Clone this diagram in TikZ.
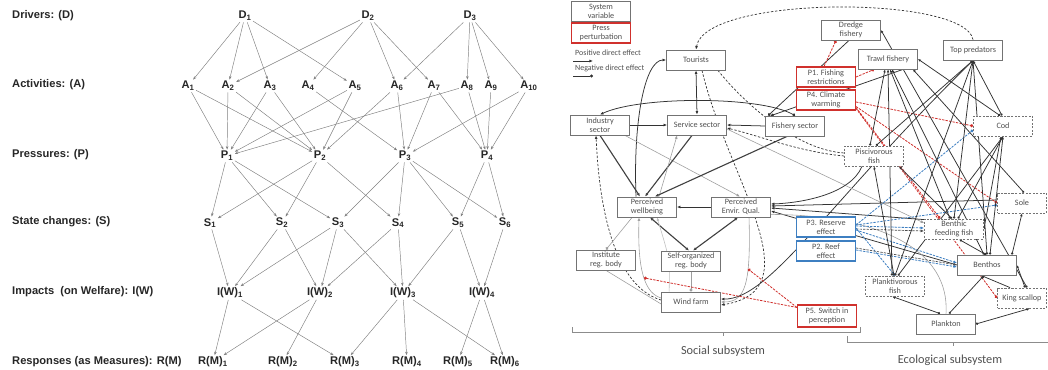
\documentclass[tikz,border=0pt]{standalone}
\usepackage{fontspec}
\setsansfont{Liberation Sans}
\newfontfamily\carl{Carlito}
\usetikzlibrary{arrows.meta,calc}
\pgfdeclarelayer{bg}
\pgfsetlayers{bg,main}
\definecolor{rd}{HTML}{D0312D}
\definecolor{bl}{HTML}{3E7FC1}
\definecolor{gtxt}{HTML}{505050}
\begin{document}
\begin{tikzpicture}[x=0.03cm,y=-0.03cm,
  lab/.style={font=\sffamily\bfseries\fontsize{9.5}{11}\selectfont,text=black!85,anchor=west,inner sep=0pt},
  v/.style={font=\sffamily\bfseries\fontsize{9.5}{11}\selectfont,text=black!85,inner sep=1.2pt},
  la/.style={draw=black!50,line width=0.4pt,-{Stealth[length=3pt,width=2.2pt]}},
  box/.style={draw=black!55,line width=0.7pt,fill=white,minimum width=1.77cm,minimum height=0.6cm,inner sep=0pt,align=center,font=\carl\fontsize{7}{7.6}\selectfont,text=gtxt},
  dbox/.style={box,dash pattern=on 1.8pt off 1.2pt},
  rbox/.style={box,draw=rd,line width=0.9pt},
  bbox/.style={box,draw=bl,line width=0.9pt},
  blk/.style={draw=black!80,line width=0.65pt},
  thk/.style={draw=black!75,line width=0.95pt},
  gry/.style={draw=black!38,line width=0.5pt},
  dsh/.style={draw=black!80,line width=0.6pt,dash pattern=on 2pt off 1.5pt},
  rdl/.style={draw=rd,line width=0.7pt,dash pattern=on 2pt off 1pt},
  bdl/.style={draw=bl,line width=0.7pt,dash pattern=on 2pt off 1pt},
  kdl/.style={draw=black!70,line width=0.6pt,dash pattern=on 2pt off 1pt},
  ar/.style={-{Latex[length=3pt,width=2.5pt]}},
  dar/.style={{Latex[length=3pt,width=2.5pt]}-{Latex[length=3pt,width=2.5pt]}},
  dt/.style={-{Circle[length=2.6pt]}},
  eco/.style={blk,{Latex[length=2.5pt,width=2.2pt]}-{Circle[length=2pt]}},
  sub/.style={font=\carl\fontsize{10.5}{12}\selectfont,text=gtxt},
  leg/.style={font=\carl\fontsize{6.8}{8}\selectfont,text=gtxt,anchor=west,inner sep=0pt}
]
\useasboundingbox (0,0) rectangle (1048,370);

% ================= LEFT PANEL =================
\node[lab] (ld) at (12,16) {Drivers: (D)};
\node[lab] (lact) at (12,85) {Activities: (A)};
\node[lab] (lp) at (12,155) {Pressures: (P)};
\node[lab] (ls) at (12,222) {State changes: (S)};
\node[lab] (li) at (12,292) {Impacts\ \ (on Welfare): I(W)};
\node[lab] (lr) at (12,362) {Responses (as Measures): R(M)};

\node[v] (d1) at (245,16) {D\textsubscript{1}};
\node[v] (d2) at (368,16) {D\textsubscript{2}};
\node[v] (d3) at (470,16) {D\textsubscript{3}};

\node[v] (a1) at (188,86) {A\textsubscript{1}};
\node[v] (a2) at (228,86) {A\textsubscript{2}};
\node[v] (a3) at (270,86) {A\textsubscript{3}};
\node[v] (a4) at (308,86) {A\textsubscript{4}};
\node[v] (a5) at (355,86) {A\textsubscript{5}};
\node[v] (a6) at (397,86) {A\textsubscript{6}};
\node[v] (a7) at (434,86) {A\textsubscript{7}};
\node[v] (a8) at (467,86) {A\textsubscript{8}};
\node[v] (a9) at (491,86) {A\textsubscript{9}};
\node[v] (a10) at (529,86) {A\textsubscript{10}};

\node[v] (p1) at (227,156) {P\textsubscript{1}};
\node[v] (p2) at (320,156) {P\textsubscript{2}};
\node[v] (p3) at (405,156) {P\textsubscript{3}};
\node[v] (p4) at (487,156) {P\textsubscript{4}};

\node[v] (s1) at (210,223) {S\textsubscript{1}};
\node[v] (s2) at (282,223) {S\textsubscript{2}};
\node[v] (s3) at (338,223) {S\textsubscript{3}};
\node[v] (s4) at (398,223) {S\textsubscript{4}};
\node[v] (s5) at (458,223) {S\textsubscript{5}};
\node[v] (s6) at (505,223) {S\textsubscript{6}};

\node[v] (i1) at (230,293) {I(W)\textsubscript{1}};
\node[v] (i2) at (320,293) {I(W)\textsubscript{2}};
\node[v] (i3) at (403,293) {I(W)\textsubscript{3}};
\node[v] (i4) at (482,293) {I(W)\textsubscript{4}};

\node[v] (r1) at (213,362) {R(M)\textsubscript{1}};
\node[v] (r2) at (283,362) {R(M)\textsubscript{2}};
\node[v] (r3) at (345,362) {R(M)\textsubscript{3}};
\node[v] (r4) at (407,362) {R(M)\textsubscript{4}};
\node[v] (r5) at (458,362) {R(M)\textsubscript{5}};
\node[v] (r6) at (505,362) {R(M)\textsubscript{6}};

\foreach \a/\b in {d1/a1,d1/a2,d1/a3,d1/a5,d2/a2,d2/a4,d2/a6,d2/a7,d3/a6,d3/a8,d3/a9,d3/a10,
  a1/p1,a1/p2,a2/p1,a2/p2,a3/p1,a3/p2,a4/p3,a5/p1,a5/p2,a6/p2,a6/p3,a7/p3,a7/p4,a8/p1,a8/p4,a9/p4,a10/p3,a10/p4,
  p1/s1,p1/s2,p1/s3,p2/s1,p2/s2,p2/s4,p3/s3,p3/s4,p3/s5,p3/s6,p4/s5,p4/s6,
  s1/i1,s2/i1,s2/i2,s3/i1,s3/i2,s3/i3,s4/i2,s4/i3,s5/i3,s5/i4,s6/i4,
  i1/r1,i1/r3,i2/r1,i2/r2,i3/r3,i3/r4,i3/r6,i4/r5,i4/r6}
  \draw[la] (\a) -- (\b);

% ================= RIGHT PANEL =================
\node[box] (sysv) at (601,11) {System\\variable};
\node[rbox] (press) at (601,33) {Press\\perturbation};
\node[leg] (lpos) at (575,53) {Positive direct effect};
\node[leg] (lneg) at (575,68) {Negative direct effect};
\coordinate (lpa) at (573,61); \coordinate (lpb) at (593,61);
\coordinate (lna) at (573,76); \coordinate (lnb) at (593,76);

\node[box] (tour) at (696,60) {Tourists};
\node[box] (ind) at (600,125) {Industry\\sector};
\node[box] (serv) at (697,125) {Service sector};
\node[box] (fish) at (795,126) {Fishery sector};
\node[box] (dredge) at (851,30) {Dredge\\fishery};
\node[box] (trawl) at (888,59) {Trawl fishery};
\node[box] (topp) at (973,50) {Top predators};
\node[rbox] (pa) at (826,77) {P1. Fishing\\restrictions};
\node[rbox] (pd) at (826,100) {P4. Climate\\warming};
\node[dbox] (cod) at (1003,126) {Cod};
\node[dbox] (pisc) at (874,156) {Piscivorous\\fish};
\node[dbox,minimum width=1.47cm] (sole) at (1022,203) {Sole};
\node[dbox] (bff) at (954,229) {Benthic\\feeding fish};
\node[box] (benth) at (987,265) {Benthos};
\node[dbox,minimum width=1.47cm] (king) at (1022,298) {King scallop};
\node[dbox] (plf) at (895,286) {Planktivorous\\fish};
\node[box] (plk) at (946,324) {Plankton};
\node[bbox] (pc) at (826,227) {P3. Reserve\\effect};
\node[bbox] (pb) at (826,251) {P2. Reef\\effect};
\node[rbox,minimum height=0.66cm] (pe) at (827,316) {P5. Switch in\\perception};
\node[box] (pw) at (647,207) {Perceived\\wellbeing};
\node[box] (peq) at (741,207) {Perceived\\Envir. Qual.};
\node[box] (inst) at (606,260) {Institute\\reg. body};
\node[box] (selfo) at (691,261) {Self-organized\\reg. body};
\node[box] (wind) at (691,302) {Wind farm};

\node[sub] (tsoc) at (723,351) {Social subsystem};
\node[sub] (teco) at (950,360) {Ecological subsystem};
\draw[black!45,line width=0.6pt] (572,327) -- (572,332) -- (860,332) -- (860,327);
\draw[black!45,line width=0.6pt] (723,332) -- (723,336);
\draw[black!45,line width=0.6pt] (847,336) -- (847,342) -- (1048,342);
\draw[black!45,line width=0.6pt] (953,342) -- (953,346);

\begin{pgfonlayer}{bg}
% legend
\draw[blk,ar] (lpa) -- (lpb);
\draw[blk,dt] (lna) -- (lnb);
% social subsystem
\draw[dsh,ar] (topp.north) .. controls (965,-5) and (705,-5) .. (tour.north);
\draw[blk,dar] (tour.south) -- (serv.north);
\draw[blk,ar] (ind.east) -- (serv.west);
\draw[blk,ar] (fish.west) -- (serv.east);
\draw[blk,{Circle[length=2.5pt]}-{Latex[length=3pt,width=2.5pt]}] (fish.north) .. controls (760,96) and (640,96) .. (ind.north);
\draw[blk,ar] ($(pw.north)+(-11,0)$) .. controls (633,120) and (645,60) .. (tour.west);
\draw[thk,ar] (ind.south) -- ($(pw.north)+(-7,0)$);
\draw[gry,ar] ($(ind.south east)+(-5,0)$) -- ($(peq.north)+(-1,0)$);
\draw[dsh,ar] ($(wind.west)+(0,-2)$) .. controls (620,288) and (600,225) .. ($(ind.south)+(-4,0)$);
\draw[thk,ar] ($(serv.south)+(-5,0)$) -- ($(pw.north)+(-2,0)$);
\draw[gry,ar] ($(pw.north)+(12,0)$) -- ($(serv.south west)+(10,0)$);
\draw[thk,ar] ($(fish.south)+(-8,0)$) -- ($(pw.north east)+(-22,0)$);
\draw[blk,ar] (peq.west) -- (pw.east);
\draw[gry,dt] ($(pw.south west)+(15,0)$) -- (inst.north);
\draw[thk,dar] ($(pw.south)+(3,0)$) -- ($(selfo.north)+(-2,0)$);
\draw[thk,dar] ($(peq.south)+(-3,0)$) -- ($(selfo.north)+(2,0)$);
\draw[gry,dt] (selfo.south) -- (wind.north);
\draw[gry] (inst.south) -- ($(wind.west)+(0,2)$);
\draw[gry,ar] ($(wind.west)+(0,-4)$) .. controls (640,292) and (638,255) .. coordinate[pos=0.4] (w1) ($(pw.south)+(-8,0)$);
\draw[draw=black!25,line width=0.5pt,ar] ($(wind.north west)+(8,0)$) .. controls (670,260) .. ($(pw.south)+(10,0)$);
\draw[gry,ar] ($(peq.south)+(8,0)$) .. controls (751,285) and (745,302) .. coordinate[pos=0.33] (w2) (wind.east);
\draw[dsh,ar] ($(tour.south)+(6,0)$) .. controls (728,180) and (815,290) .. ($(wind.east)+(0,3)$);
\draw[blk,ar] (topp.south) .. controls (830,200) and (770,300) .. ($(wind.east)+(0,-3)$);
\draw[dsh,ar] (pisc.west) .. controls (800,152) and (760,136) .. ($(serv.east)+(0,3)$);
\draw[dsh] ($(tour.south east)+(-8,0)$) .. controls (750,110) and (800,150) .. ($(pisc.west)+(0,-3)$);
\draw[gry,ar] ($(serv.east)+(0,4)$) -- ($(bff.west)+(0,-6)$);
\draw[blk,ar] ($(pisc.south)+(-12,0)$) .. controls (850,195) and (800,203) .. ($(peq.east)+(0,-3)$);
\draw[blk,ar] ($(bff.north west)+(0,1)$) -- ($(peq.east)+(0,1)$);
\draw[blk,ar] ($(sole.west)+(0,-3)$) -- ($(peq.east)+(0,-1)$);
\draw[blk,ar] (benth.west) -- ($(peq.east)+(0,4)$);
\draw[gry] ($(peq.south east)+(0,-3)$) .. controls (880,215) and (950,250) .. (plk.north);
% P5
\draw[rdl,dt] ($(pe.north west)+(0,3)$) -- (w2);
\draw[rdl,dt] ($(pe.north west)+(0,3)$) -- (w1);
% fishery links
\draw[blk,dt] ($(dredge.south)+(-2,0)$) -- ($(fish.north west)+(3,0)$);
\draw[blk,dt] ($(trawl.south)+(15,0)$) -- ($(fish.north west)+(6,0)$);
\draw[rdl,dt] ($(pa.north)+(-2,0)$) -- ($(dredge.south)+(-15,0)$);
\draw[rdl,dt] (pa.east) -- ($(trawl.south west)+(16,0)$);
% P4
\draw[rdl,dt] ($(pd.east)+(0,2)$) -- (cod.west);
\draw[rdl,dt] ($(pd.south east)+(0,-4)$) -- (sole.west);
\draw[rdl,dt] ($(pd.south east)+(0,-3)$) -- ($(bff.north)+(-14,0)$);
\draw[rdl,dt] ($(pd.south east)+(0,-2)$) -- (king.west);
% P3, P2
\draw[bdl,dt] ($(pc.east)+(0,-2)$) -- ($(cod.west)+(0,4)$);
\draw[bdl,dt] ($(pc.east)+(0,-2)$) -- ($(sole.west)+(0,2)$);
\draw[bdl,ar] ($(pc.east)+(0,-1)$) -- ($(bff.west)+(0,-1)$);
\draw[kdl,ar] ($(pc.east)+(0,2)$) -- ($(bff.west)+(0,2)$);
\draw[bdl,dt] ($(pc.east)+(0,1)$) -- (plf.north);
\draw[bdl,ar] ($(pc.east)+(0,3)$) -- ($(benth.west)+(0,-2)$);
\draw[kdl,ar] ($(pb.east)+(0,-3)$) -- (benth.west);
\draw[bdl,ar] ($(pb.east)+(0,-1)$) -- ($(benth.west)+(0,2)$);
% ecological links
\draw[eco] ($(trawl.south)+(-3,0)$) -- ($(pisc.north)+(-4,0)$);
\draw[eco] (trawl.south) -- ($(plf.north)+(-3,0)$);
\draw[eco] ($(trawl.south)+(2,0)$) -- ($(bff.north)+(-4,0)$);
\draw[eco] ($(trawl.south)+(4,0)$) -- ($(benth.north)+(-3,0)$);
\draw[eco] (trawl.east) -- ($(cod.north)+(-3,0)$);
\draw[eco] ($(trawl.south east)+(-5,0)$) -- ($(sole.north)+(2,0)$);
\draw[eco] (topp.south) -- ($(pisc.north)+(2,0)$);
\draw[eco] (topp.south) -- ($(cod.north)+(-1,0)$);
\draw[eco] (topp.south) -- (bff.north);
\draw[eco] (topp.south) -- (plf.north);
\draw[eco] (topp.south) -- (benth.north);
\draw[eco] (cod.south) -- ($(bff.north)+(4,0)$);
\draw[eco] (cod.south) -- ($(plf.north)+(3,0)$);
\draw[eco] (cod.south) -- ($(benth.north)+(3,0)$);
\draw[eco] ($(cod.south)+(-2,0)$) -- (bff.east);
\draw[eco] (pisc.south) -- ($(plf.north)+(-1,0)$);
\draw[eco] ($(pisc.south east)+(-5,0)$) -- ($(bff.north)+(-2,0)$);
\draw[eco] ($(bff.south)+(5,0)$) -- ($(benth.north)+(-1,0)$);
\draw[eco] (sole.south) -- ($(benth.north east)+(-5,0)$);
\draw[eco] (benth.east) -- ($(king.north)+(3,0)$);
\draw[eco] (dredge.east) -- ($(king.north)+(5,0)$);
\draw[blk,ar] ($(king.north)+(-12,0)$) -- ($(benth.south)+(-6,0)$);
\draw[blk,{Circle[length=2pt]}-{Latex[length=3pt,width=2.5pt]}] ($(plk.north)+(-6,0)$) -- ($(plf.south)+(-3,0)$);
\draw[blk,{Circle[length=2pt]}-{Latex[length=3pt,width=2.5pt]}] ($(plk.north)+(3,0)$) -- ($(benth.south)+(-3,0)$);
\draw[blk,{Circle[length=2pt]}-{Latex[length=3pt,width=2.5pt]}] (plk.east) -- ($(king.south)+(8,0)$);
\end{pgfonlayer}
\end{tikzpicture}
\end{document}
